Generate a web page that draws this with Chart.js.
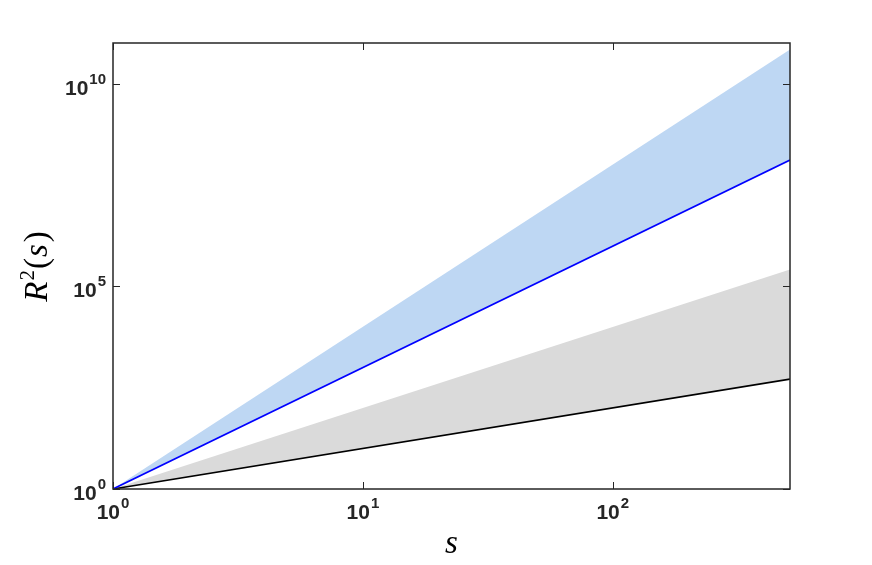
<!DOCTYPE html>
<html>
<head>
<meta charset="utf-8">
<script src="https://cdn.jsdelivr.net/npm/chart.js@4.4.1/dist/chart.umd.min.js"></script>
<style>
  html, body { margin: 0; padding: 0; background: #fff; }
  #wrap { width: 872px; height: 565px; }
</style>
</head>
<body>
<div id="wrap"><canvas id="chart" width="872" height="565"></canvas></div>
<script>
// s values and R^2(s) (log-log, straight lines)
const sValues = [1, 512];
const blueUpper = [1, 6.9e10];
const blueLine = [1, 1.3e8];
const grayUpper = [1, 2.6e5];
const blackLine = [1, 512];

const xTicks = [1, 10, 100];
const xTickExp = ['0', '1', '2'];
const yTicks = [1, 1e5, 1e10];
const yTickExp = ['0', '5', '10'];

function pts(ys) {
    return sValues.map(function (s, i) { return { x: s, y: ys[i] }; });
}

const axisColor = '#262626';
const serif = '"Liberation Serif", "DejaVu Serif", serif';

const boxPlugin = {
    id: 'boxAxes',
    afterDraw: function (chart) {
        const ctx = chart.ctx;
        const a = chart.chartArea;
        const xs = chart.scales.x;
        const ys = chart.scales.y;
        const tl = 7;
        ctx.save();
        ctx.strokeStyle = axisColor;
        ctx.lineWidth = 1.5;
        ctx.strokeRect(a.left, a.top, a.right - a.left, a.bottom - a.top);

        ctx.lineWidth = 1;
        ctx.beginPath();
        xTicks.forEach(function (v) {
            const px = Math.round(xs.getPixelForValue(v)) + 0.5;
            ctx.moveTo(px, a.bottom); ctx.lineTo(px, a.bottom - tl);
            ctx.moveTo(px, a.top); ctx.lineTo(px, a.top + tl);
        });
        yTicks.forEach(function (v) {
            const py = Math.round(ys.getPixelForValue(v)) + 0.5;
            ctx.moveTo(a.left, py); ctx.lineTo(a.left + tl, py);
            ctx.moveTo(a.right, py); ctx.lineTo(a.right - tl, py);
        });
        ctx.stroke();

        // tick labels 10^n
        ctx.fillStyle = axisColor;
        ctx.textBaseline = 'alphabetic';
        const baseFont = 'bold 21px "Liberation Sans", Arial, sans-serif';
        const supFont = 'bold 15px "Liberation Sans", Arial, sans-serif';

        function measure(exp) {
            ctx.font = baseFont;
            const w1 = ctx.measureText('10').width;
            ctx.font = supFont;
            const w2 = ctx.measureText(exp).width;
            return [w1, w2];
        }
        function drawLabel(x, y, exp) {
            ctx.font = baseFont;
            ctx.textAlign = 'left';
            const w1 = ctx.measureText('10').width;
            ctx.fillText('10', x, y);
            ctx.font = supFont;
            ctx.fillText(exp, x + w1 + 1, y - 11);
        }

        xTicks.forEach(function (v, i) {
            const px = xs.getPixelForValue(v);
            const w = measure(xTickExp[i]);
            drawLabel(px - (w[0] + w[1] + 1) / 2, a.bottom + 30, xTickExp[i]);
        });
        yTicks.forEach(function (v, i) {
            const py = ys.getPixelForValue(v);
            const w = measure(yTickExp[i]);
            drawLabel(a.left - 7 - (w[0] + w[1] + 1), py + 11, yTickExp[i]);
        });

        // axis titles
        ctx.font = 'italic 33px ' + serif;
        ctx.textAlign = 'center';
        ctx.fillStyle = '#000';
        ctx.fillText('s', (a.left + a.right) / 2, a.bottom + 64);

        ctx.translate(47, (a.top + a.bottom) / 2);
        ctx.rotate(-Math.PI / 2);
        ctx.font = 'italic 33px ' + serif;
        const wR = ctx.measureText('R').width;
        ctx.font = '21px ' + serif;
        const w2 = ctx.measureText('2').width;
        ctx.font = '33px ' + serif;
        const wP = ctx.measureText('(').width;
        ctx.font = 'italic 33px ' + serif;
        const wS = ctx.measureText('s').width;
        const total = wR + w2 + 2 * wP + wS + 6;
        let cx = -total / 2;
        ctx.textAlign = 'left';
        ctx.font = 'italic 33px ' + serif;
        ctx.fillText('R', cx, 0); cx += wR + 1;
        ctx.font = '21px ' + serif;
        ctx.fillText('2', cx, -13); cx += w2 + 1;
        ctx.font = '33px ' + serif;
        ctx.fillText('(', cx, 0); cx += wP + 1;
        ctx.font = 'italic 33px ' + serif;
        ctx.fillText('s', cx, 0); cx += wS + 2;
        ctx.font = '33px ' + serif;
        ctx.fillText(')', cx, 0);
        ctx.restore();
    }
};

var ctx = document.getElementById('chart');
var myChart = new Chart(ctx, {
    type: 'scatter',
    data: {
        datasets: [
            {
                data: pts(blueUpper),
                showLine: true,
                borderWidth: 0,
                borderColor: 'rgba(0,0,0,0)',
                backgroundColor: 'rgb(190, 215, 243)',
                fill: '+1',
                pointRadius: 0
            },
            {
                data: pts(blueLine),
                showLine: true,
                borderWidth: 1.6,
                borderColor: '#0000ff',
                pointRadius: 0,
                fill: false
            },
            {
                data: pts(grayUpper),
                showLine: true,
                borderWidth: 0,
                borderColor: 'rgba(0,0,0,0)',
                backgroundColor: 'rgb(218, 218, 218)',
                fill: '+1',
                pointRadius: 0
            },
            {
                data: pts(blackLine),
                showLine: true,
                borderWidth: 1.6,
                borderColor: '#000000',
                pointRadius: 0,
                fill: false
            }
        ]
    },
    options: {
        responsive: false,
        animation: false,
        layout: {
            padding: { left: 113, right: 82, top: 43, bottom: 76 }
        },
        plugins: {
            legend: { display: false },
            tooltip: { enabled: false },
            filler: { drawTime: 'beforeDatasetsDraw' }
        },
        scales: {
            x: { type: 'logarithmic', min: 1, max: 512, display: false },
            y: { type: 'logarithmic', min: 1, max: 1e11, display: false }
        }
    },
    plugins: [boxPlugin]
});
</script>
</body>
</html>
